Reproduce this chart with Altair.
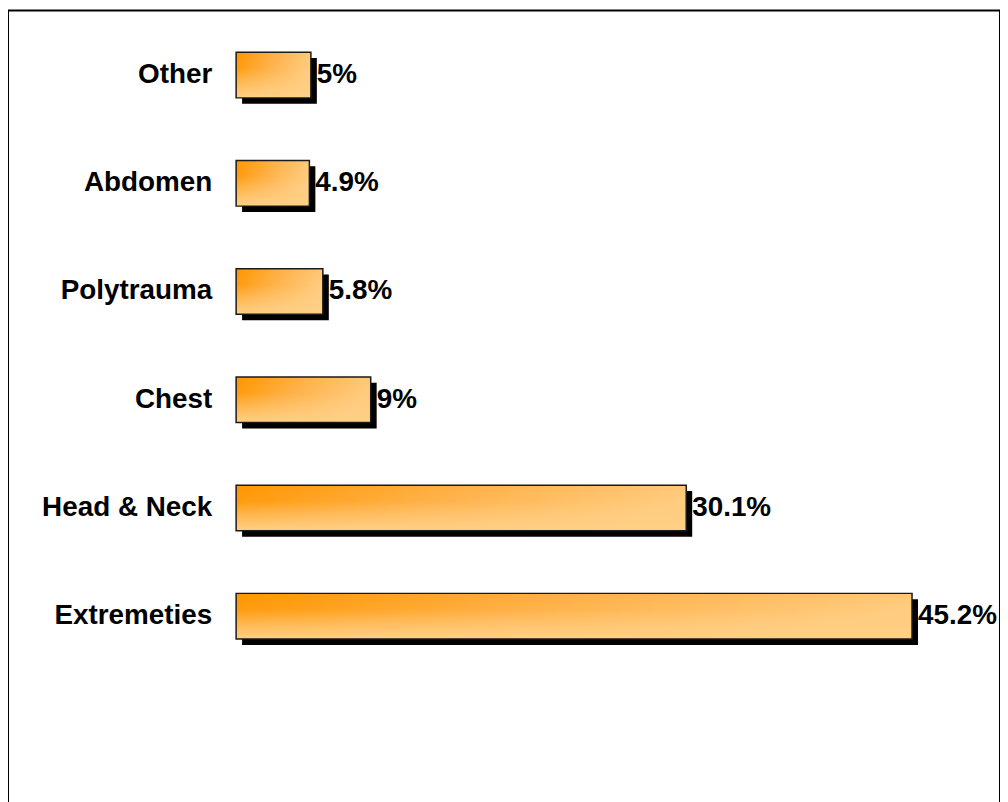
import altair as alt
import pandas as pd

categories = ["Other", "Abdomen", "Polytrauma", "Chest", "Head & Neck", "Extremeties"]
values = [5, 4.9, 5.8, 9, 30.1, 45.2]
labels = ["5%", "4.9%", "5.8%", "9%", "30.1%", "45.2%"]

df = pd.DataFrame({"cat": categories, "val": values, "lab": labels})

xscale = alt.Scale(domain=[0, 45.2], range=[229.5, 909.5], zero=False, nice=False)
yscale = alt.Scale(domain=categories, range=[10.55, 663.95], paddingInner=0.5776, paddingOuter=0.2888)

X = alt.X("val:Q", scale=xscale, axis=None)
Y = alt.Y("cat:N", scale=yscale, axis=None, sort=categories)

base = alt.Chart(df)

shadow = base.mark_bar(color="black", xOffset=6, x2Offset=6, yOffset=6, y2Offset=6).encode(
    x=X, x2=alt.X2(datum=0), y=Y
)

hgrad = alt.Gradient(
    gradient="linear",
    stops=[alt.GradientStop(color="#FF9600", offset=0),
           alt.GradientStop(color="#FFB24A", offset=0.5),
           alt.GradientStop(color="#FFCC80", offset=1)],
    x1=0, x2=1, y1=0, y2=0.3,
)
vgrad = alt.Gradient(
    gradient="linear",
    stops=[alt.GradientStop(color="rgba(255,206,130,0)", offset=0),
           alt.GradientStop(color="rgba(255,206,130,0)", offset=0.35),
           alt.GradientStop(color="rgba(255,208,135,1)", offset=1)],
    x1=0, x2=0, y1=0, y2=1,
)

bar1 = base.mark_bar(color=hgrad).encode(x=X, x2=alt.X2(datum=0), y=Y)
bar2 = base.mark_bar(color=vgrad, stroke="#1a1a1a", strokeWidth=1.5).encode(
    x=X, x2=alt.X2(datum=0), y=Y
)

vals = base.mark_text(
    align="left", baseline="middle", dx=6, font="Liberation Sans",
    fontSize=28, fontWeight="bold", color="black"
).encode(x=X, y=Y, text="lab:N")

cats = base.mark_text(
    align="right", baseline="middle", dx=-24, font="Liberation Sans",
    fontSize=28, fontWeight="bold", color="black"
).encode(x=alt.X(datum=0, scale=xscale, axis=None), y=Y, text="cat:N")

chart = alt.layer(shadow, bar1, bar2, vals, cats).properties(
    width=998, height=800,
    autosize=alt.AutoSizeParams(type="none"),
    padding=0,
).configure_view(stroke="black", strokeWidth=2)

chart.save("out.html", embed_options={"renderer": "svg", "actions": False})
